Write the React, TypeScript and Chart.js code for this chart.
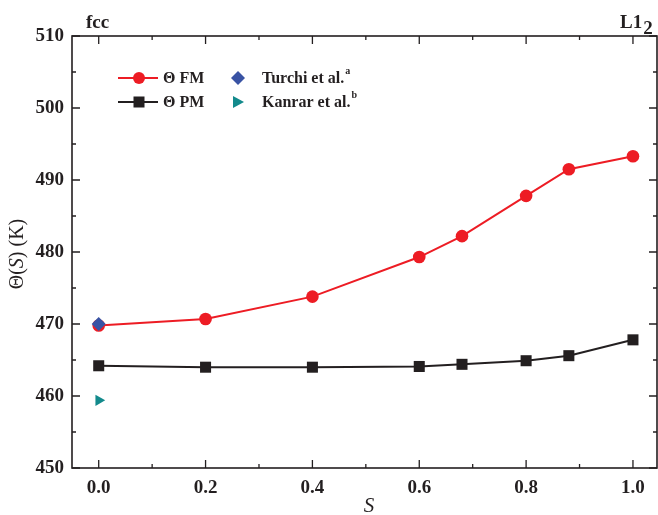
import React, { useEffect, useRef } from "react";
import { Chart, registerables } from "chart.js";

Chart.register(...registerables);

const sValues = [0, 0.2, 0.4, 0.6, 0.68, 0.8, 0.88, 1.0];
const fmValues = [469.8, 470.7, 473.8, 479.3, 482.2, 487.8, 491.5, 493.3];
const pmValues = [464.2, 464.0, 464.0, 464.1, 464.4, 464.9, 465.6, 467.8];
const turchiS = [0];
const turchiValues = [470.0];
const kanrarS = [0];
const kanrarValues = [459.4];

const xMajorTicks = [0, 0.2, 0.4, 0.6, 0.8, 1.0];
const xMinorTicks = [0.1, 0.3, 0.5, 0.7, 0.9];
const yMajorTicks = [450, 460, 470, 480, 490, 500, 510];
const yMinorTicks = [455, 465, 475, 485, 495, 505];

const RED = "#ed1c24";
const BLACK = "#231f20";
const BLUE = "#3953a4";
const TEAL = "#138a8c";
const SERIF = "'Liberation Serif', 'DejaVu Serif', serif";

const framePlugin = {
  id: "framePlugin",
  beforeDatasetsDraw(chart: any) {
    const { ctx, chartArea } = chart;
    const xs = chart.scales.x;
    const ys = chart.scales.y;
    const { left, right, top, bottom } = chartArea;
    ctx.save();
    ctx.strokeStyle = BLACK;
    ctx.lineWidth = 1.6;
    ctx.strokeRect(left, top, right - left, bottom - top);
    ctx.lineWidth = 1.3;
    const tick = (vals: number[], len: number, isX: boolean) => {
      vals.forEach((v) => {
        ctx.beginPath();
        if (isX) {
          const px = xs.getPixelForValue(v);
          ctx.moveTo(px, bottom);
          ctx.lineTo(px, bottom - len);
          ctx.moveTo(px, top);
          ctx.lineTo(px, top + len);
        } else {
          const py = ys.getPixelForValue(v);
          ctx.moveTo(left, py);
          ctx.lineTo(left + len, py);
          ctx.moveTo(right, py);
          ctx.lineTo(right - len, py);
        }
        ctx.stroke();
      });
    };
    tick(xMajorTicks, 8, true);
    tick(xMinorTicks, 4, true);
    tick(yMajorTicks, 8, false);
    tick(yMinorTicks, 4, false);
    ctx.restore();
  },
  afterDraw(chart: any) {
    const { ctx, chartArea } = chart;
    ctx.save();
    ctx.fillStyle = BLACK;
    // top labels
    ctx.font = `bold 19px ${SERIF}`;
    ctx.textBaseline = "alphabetic";
    ctx.textAlign = "left";
    ctx.fillText("fcc", 86, 28);
    ctx.fillText("L1", 620, 28);
    const l1w = ctx.measureText("L1").width;
    ctx.fillText("2", 620 + l1w + 1, 34);

    // x title
    ctx.font = `italic 21px ${SERIF}`;
    ctx.textAlign = "center";
    ctx.fillText("S", 369, 512);

    // y title
    ctx.save();
    ctx.translate(23, (chartArea.top + chartArea.bottom) / 2 + 2);
    ctx.rotate(-Math.PI / 2);
    const fs = 20;
    const p1 = "Θ(";
    const p2 = "S";
    const p3 = ") (K)";
    ctx.font = `${fs}px ${SERIF}`;
    const w1 = ctx.measureText(p1).width;
    const w3 = ctx.measureText(p3).width;
    ctx.font = `italic ${fs}px ${SERIF}`;
    const w2 = ctx.measureText(p2).width;
    const x0 = -(w1 + w2 + w3) / 2;
    ctx.textAlign = "left";
    ctx.font = `${fs}px ${SERIF}`;
    ctx.fillText(p1, x0, 0);
    ctx.font = `italic ${fs}px ${SERIF}`;
    ctx.fillText(p2, x0 + w1, 0);
    ctx.font = `${fs}px ${SERIF}`;
    ctx.fillText(p3, x0 + w1 + w2, 0);
    ctx.restore();

    // legend
    const row1 = 78;
    const row2 = 102;
    ctx.lineWidth = 2;
    ctx.strokeStyle = RED;
    ctx.beginPath();
    ctx.moveTo(118, row1);
    ctx.lineTo(158, row1);
    ctx.stroke();
    ctx.fillStyle = RED;
    ctx.beginPath();
    ctx.arc(139, row1, 6, 0, Math.PI * 2);
    ctx.fill();

    ctx.strokeStyle = BLACK;
    ctx.beginPath();
    ctx.moveTo(118, row2);
    ctx.lineTo(158, row2);
    ctx.stroke();
    ctx.fillStyle = BLACK;
    ctx.fillRect(133.5, row2 - 5.5, 11, 11);

    ctx.fillStyle = BLUE;
    ctx.beginPath();
    ctx.moveTo(238, row1 - 7);
    ctx.lineTo(245, row1);
    ctx.lineTo(238, row1 + 7);
    ctx.lineTo(231, row1);
    ctx.closePath();
    ctx.fill();

    ctx.fillStyle = TEAL;
    ctx.beginPath();
    ctx.moveTo(233, row2 - 6);
    ctx.lineTo(244, row2);
    ctx.lineTo(233, row2 + 6);
    ctx.closePath();
    ctx.fill();

    ctx.fillStyle = BLACK;
    ctx.font = `bold 16px ${SERIF}`;
    ctx.textAlign = "left";
    ctx.textBaseline = "middle";
    ctx.fillText("Θ FM", 163, row1 + 1);
    ctx.fillText("Θ PM", 163, row2 + 1);
    ctx.fillText("Turchi et al.", 262, row1 + 1);
    const tw = ctx.measureText("Turchi et al.").width;
    ctx.fillText("Kanrar et al.", 262, row2 + 1);
    const kw = ctx.measureText("Kanrar et al.").width;
    ctx.font = `bold 10px ${SERIF}`;
    ctx.fillText("a", 262 + tw + 1, row1 - 7);
    ctx.fillText("b", 262 + kw + 1, row2 - 7);
    ctx.restore();
  },
};

export default function App() {
  const canvasRef = useRef<HTMLCanvasElement | null>(null);

  useEffect(() => {
    if (!canvasRef.current) return;
    const toPts = (xs: number[], ys: number[]) => xs.map((x, i) => ({ x, y: ys[i] }));
    const chart = new Chart(canvasRef.current, {
      type: "line",
      data: {
        datasets: [
          {
            label: "Turchi et al.",
            data: toPts(turchiS, turchiValues),
            showLine: false,
            pointStyle: "rectRot",
            pointRadius: 7,
            backgroundColor: BLUE,
            borderColor: BLUE,
            borderWidth: 0,
            order: 0,
          },
          {
            label: "Kanrar et al.",
            data: toPts(kanrarS, kanrarValues),
            showLine: false,
            pointStyle: "triangle",
            pointRotation: 90,
            pointRadius: 6.5,
            backgroundColor: TEAL,
            borderColor: TEAL,
            borderWidth: 0,
            order: 0,
          },
          {
            label: "Θ FM",
            data: toPts(sValues, fmValues),
            borderColor: RED,
            backgroundColor: RED,
            borderWidth: 2,
            pointStyle: "circle",
            pointRadius: 6.3,
            pointBorderWidth: 0,
            tension: 0,
            order: 2,
          },
          {
            label: "Θ PM",
            data: toPts(sValues, pmValues),
            borderColor: BLACK,
            backgroundColor: BLACK,
            borderWidth: 2,
            pointStyle: "rect",
            pointRadius: 7.8,
            pointBorderWidth: 0,
            tension: 0,
            order: 2,
          },
        ],
      },
      options: {
        responsive: false,
        animation: false,
        layout: { autoPadding: false, padding: { top: 36, right: 1, left: 0, bottom: 0 } },
        plugins: {
          legend: { display: false },
          tooltip: { enabled: false },
        },
        scales: {
          x: {
            type: "linear",
            min: -0.05,
            max: 1.045,
            grid: { display: false, drawTicks: false },
            border: { display: false },
            afterBuildTicks: (scale: any) => {
              scale.ticks = xMajorTicks.map((v) => ({ value: v }));
            },
            afterFit: (scale: any) => {
              scale.height = 47;
              scale.paddingLeft = 0;
              scale.paddingRight = 0;
            },
            ticks: {
              padding: 9,
              color: BLACK,
              font: { family: SERIF, size: 19, weight: "bold" },
              callback: (v: any) => Number(v).toFixed(1),
              maxRotation: 0,
              autoSkip: false,
            },
          },
          y: {
            type: "linear",
            min: 450,
            max: 510,
            grid: { display: false, drawTicks: false },
            border: { display: false },
            afterBuildTicks: (scale: any) => {
              scale.ticks = yMajorTicks.map((v) => ({ value: v }));
            },
            afterFit: (scale: any) => {
              scale.width = 72;
              scale.paddingTop = 0;
              scale.paddingBottom = 0;
            },
            ticks: {
              padding: 8,
              color: BLACK,
              font: { family: SERIF, size: 19, weight: "bold" },
              callback: (v: any) => String(v),
              autoSkip: false,
            },
          },
        },
      },
      plugins: [framePlugin],
    } as any);
    return () => chart.destroy();
  }, []);

  return (
    <div style={{ position: "absolute", left: 0, top: 0, width: 658, height: 515, background: "#fff" }}>
      <canvas ref={canvasRef} width={658} height={515} style={{ width: 658, height: 515, display: "block" }} />
    </div>
  );
}
